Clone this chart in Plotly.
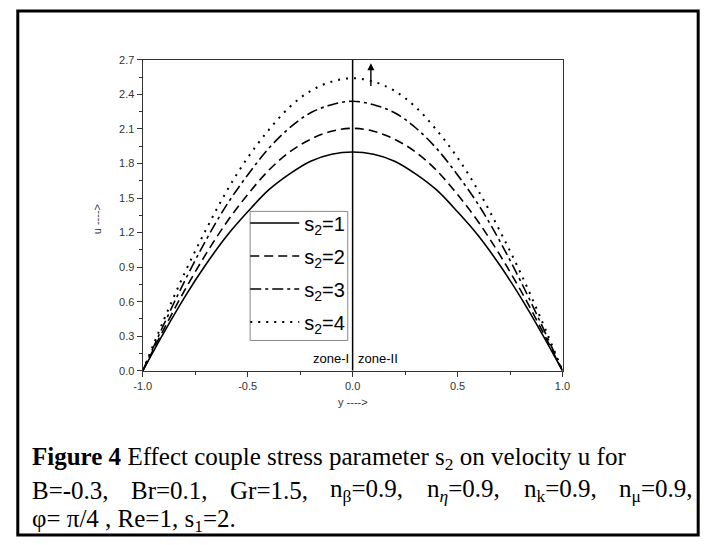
import plotly.graph_objects as go

# ---- data ----
y_pos = [-1.0, -0.9, -0.8, -0.7, -0.6, -0.5, -0.4, -0.3, -0.2, -0.1, 0.0,
         0.1, 0.2, 0.3, 0.4, 0.5, 0.6, 0.7, 0.8, 0.9, 1.0]
u_s2_1 = [0.0, 0.33, 0.64, 0.92, 1.17, 1.38, 1.57, 1.71, 1.82, 1.88, 1.90,
          1.88, 1.82, 1.71, 1.57, 1.38, 1.17, 0.92, 0.64, 0.33, 0.0]
u_s2_2 = [0.0, 0.36, 0.70, 1.01, 1.29, 1.53, 1.74, 1.90, 2.01, 2.08, 2.105,
          2.08, 2.01, 1.90, 1.74, 1.53, 1.29, 1.01, 0.70, 0.36, 0.0]
u_s2_3 = [0.0, 0.40, 0.78, 1.13, 1.44, 1.70, 1.93, 2.11, 2.24, 2.31, 2.34,
          2.31, 2.24, 2.11, 1.93, 1.70, 1.44, 1.13, 0.78, 0.40, 0.0]
u_s2_4 = [0.0, 0.44, 0.85, 1.22, 1.56, 1.85, 2.09, 2.29, 2.43, 2.51, 2.54,
          2.51, 2.43, 2.29, 2.09, 1.85, 1.56, 1.22, 0.85, 0.44, 0.0]
series_names = ["s<sub>2</sub>=1", "s<sub>2</sub>=2", "s<sub>2</sub>=3", "s<sub>2</sub>=4"]
series_vals = [u_s2_1, u_s2_2, u_s2_3, u_s2_4]
x_ticks = [-1.0, -0.5, 0.0, 0.5, 1.0]
x_tick_labels = ["-1.0", "-0.5", "0.0", "0.5", "1.0"]
y_ticks = [0.0, 0.3, 0.6, 0.9, 1.2, 1.5, 1.8, 2.1, 2.4, 2.7]
y_tick_labels = ["0.0", "0.3", "0.6", "0.9", "1.2", "1.5", "1.8", "2.1", "2.4", "2.7"]
arrow_x, arrow_tail, arrow_head = 0.087, 2.46, 2.67

caption_line1 = "<b>Figure 4</b> Effect couple stress parameter s<sub>2</sub> on velocity u for"
caption_line2 = ["B=-0.3,", "Br=0.1,", "Gr=1.5,", "n<sub>β</sub>=0.9,",
                 "n<sub><i>η</i></sub>=0.9,", "n<sub>k</sub>=0.9,", "n<sub>μ</sub>=0.9,"]
caption_line2_x = [22, 123, 224, 327, 426, 525, 623]
caption_line3 = "φ= π/4 , Re=1, s<sub>1</sub>=2."

W, H = 714, 545
dashes = ["solid", "9px,5px", "11px,4px,3px,4px", "2px,6px"]
widths = [1.6, 1.6, 1.6, 2.0]

fig = go.Figure()
for i, (name, vals, d, w) in enumerate(zip(series_names, series_vals, dashes, widths)):
    fig.add_trace(go.Scatter(x=y_pos, y=vals, mode="lines", name=name, legendgroup=f"g{i}",
                             line=dict(color="black", dash=d, width=w, shape="spline",
                                       smoothing=1.0)))

sans = "Liberation Sans, Arial, sans-serif"
serif = "Liberation Serif, Times New Roman, serif"
axcol = "#333333"

fig.update_layout(
    width=W, height=H, margin=dict(l=0, r=0, t=0, b=0),
    paper_bgcolor="white", plot_bgcolor="white",
    xaxis=dict(domain=[137 / W, 567 / W], range=[-1, 1], tickvals=x_ticks,
               ticktext=x_tick_labels, ticks="outside", ticklen=5, tickwidth=1,
               tickcolor=axcol, showline=True, linecolor=axcol, linewidth=1.3, mirror=True,
               showgrid=False, zeroline=False,
               minor=dict(dtick=0.25, tick0=-1, ticks="outside", ticklen=3, tickcolor=axcol),
               tickfont=dict(family=sans, size=11, color=axcol)),
    yaxis=dict(domain=[(H - 373) / H, (H - 55) / H], range=[0, 2.7], tickvals=y_ticks,
               ticktext=y_tick_labels, ticks="outside", ticklen=5, tickwidth=1,
               tickcolor=axcol, showline=True, linecolor=axcol, linewidth=1.3, mirror=True,
               showgrid=False, zeroline=False,
               minor=dict(dtick=0.15, tick0=0, ticks="outside", ticklen=3, tickcolor=axcol),
               tickfont=dict(family=sans, size=11, color=axcol)),
    legend=dict(x=242 / W, y=(H - 202) / H, xanchor="left", yanchor="top",
                borderwidth=0, bgcolor="rgba(0,0,0,0)",
                font=dict(family=sans, size=20, color="black"), itemwidth=49,
                tracegroupgap=4),
    showlegend=True,
)

# legend frame
fig.add_shape(type="rect", xref="paper", yref="paper", x0=247 / W, x1=347 / W,
              y0=(H - 342) / H, y1=(H - 210) / H, layer="above",
              line=dict(color="#888888", width=1), fillcolor="white")
# vertical zone separator at y=0
fig.add_shape(type="line", xref="x", yref="y", x0=0, x1=0, y0=0, y1=2.7,
              line=dict(color="black", width=1.5))
# outer frame
fig.add_shape(type="rect", xref="paper", yref="paper", x0=9 / W, x1=706 / W,
              y0=(H - 541) / H, y1=(H - 5) / H, line=dict(color="black", width=3))

# arrow
fig.add_annotation(x=arrow_x, y=arrow_head, ax=arrow_x, ay=arrow_tail, xref="x", yref="y",
                   axref="x", ayref="y", showarrow=True, arrowhead=2, arrowsize=1,
                   arrowwidth=1.4, arrowcolor="black", text="")

# zone labels
fig.add_annotation(x=0, y=0, xref="x", yref="y", text="zone-I", showarrow=False,
                   xanchor="right", yanchor="bottom", xshift=-2, yshift=3,
                   font=dict(family=sans, size=13, color="black"))
fig.add_annotation(x=0, y=0, xref="x", yref="y", text="zone-II", showarrow=False,
                   xanchor="left", yanchor="bottom", xshift=3, yshift=3,
                   font=dict(family=sans, size=13, color="black"))

# axis titles
fig.add_annotation(x=82 / W, y=(H - 218) / H, xref="paper", yref="paper", text="u ---->",
                   showarrow=False, textangle=-90,
                   font=dict(family=sans, size=11, color=axcol))
fig.add_annotation(x=352 / W, y=(H - 413) / H, xref="paper", yref="paper", text="y ---->",
                   showarrow=False, font=dict(family=sans, size=11, color=axcol))

# caption
cap_font = dict(family=serif, size=25, color="black")
fig.add_annotation(x=22 / W, y=(H - 463) / H, xref="paper", yref="paper", text=caption_line1,
                   showarrow=False, xanchor="left", yanchor="middle", font=cap_font)
for txt, px in zip(caption_line2, caption_line2_x):
    fig.add_annotation(x=px / W, y=(H - 495) / H, xref="paper", yref="paper", text=txt,
                       showarrow=False, xanchor="left", yanchor="middle", font=cap_font)
fig.add_annotation(x=22 / W, y=(H - 526) / H, xref="paper", yref="paper", text=caption_line3,
                   showarrow=False, xanchor="left", yanchor="middle", font=cap_font)

fig.write_html("out.html")
